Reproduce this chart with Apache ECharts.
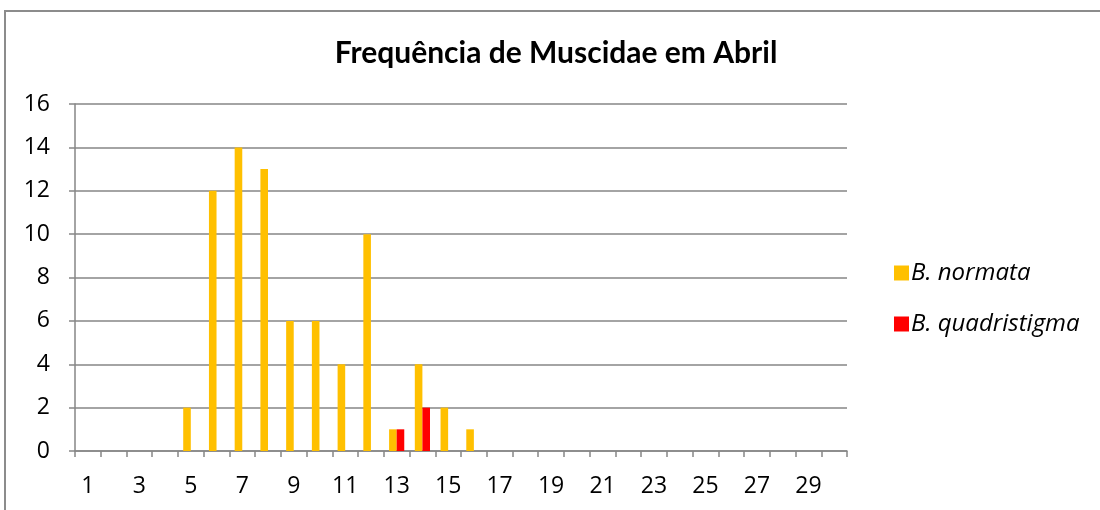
<!DOCTYPE html>
<html>
<head>
<meta charset="utf-8">
<script src="https://cdn.jsdelivr.net/npm/echarts@6/dist/echarts.min.js"></script>
<style>
html,body{margin:0;padding:0;background:#fff;}
#c{width:1100px;height:510px;}
</style>
</head>
<body>
<div id="c"></div>
<script>
const categories = Array.from({length: 30}, (_, i) => String(i + 1));
const normata = [0,0,0,0,2,12,14,13,6,6,4,10,1,4,2,1,0,0,0,0,0,0,0,0,0,0,0,0,0,0];
const quadristigma = [0,0,0,0,0,0,0,0,0,0,0,0,1,2,0,0,0,0,0,0,0,0,0,0,0,0,0,0,0,0];
const seriesNames = ['B. normata', 'B. quadristigma'];
const titleText = 'Frequência de Muscidae em Abril';

const chart = echarts.init(document.getElementById('c'), null, {renderer: 'canvas'});
const axisGray = '#868686';
chart.setOption({
  animation: false,
  backgroundColor: '#fff',
  title: {
    text: titleText,
    left: 551, top: 33, textAlign: 'center',
    textStyle: {fontFamily: 'Lato', fontWeight: 'bold', fontSize: 30, color: '#000'}
  },
  legend: {
    orient: 'vertical',
    left: 889, top: 256,
    itemWidth: 15, itemHeight: 15, itemGap: 27,
    icon: 'rect',
    textStyle: {fontFamily: 'Open Sans', fontStyle: 'italic', fontSize: 24, color: '#000', padding: [0,0,0,-3]},
    data: seriesNames
  },
  grid: {left: 75, right: 253, top: 104, bottom: 59, containLabel: false},
  xAxis: {
    type: 'category',
    data: categories,
    boundaryGap: true,
    axisLine: {lineStyle: {color: axisGray, width: 1.5}},
    axisTick: {show: true, interval: 0, length: 6, lineStyle: {color: axisGray, width: 1.5}},
    axisLabel: {interval: 1, fontFamily: 'Open Sans', fontSize: 23, color: '#000', margin: 24}
  },
  yAxis: {
    type: 'value', min: 0, max: 16, interval: 2,
    axisLine: {show: true, lineStyle: {color: axisGray, width: 1.5}},
    axisTick: {show: true, length: 6, lineStyle: {color: axisGray, width: 1.5}},
    splitLine: {lineStyle: {color: axisGray, width: 1.5}},
    axisLabel: {fontFamily: 'Open Sans', fontSize: 23, color: '#000', margin: 25}
  },
  graphic: [{
    type: 'polyline',
    shape: {points: [[5, 510], [5, 11], [1100, 11]]},
    style: {stroke: '#8c8c8c', lineWidth: 2, fill: null}
  }],
  series: [
    {name: seriesNames[0], type: 'bar', data: normata, barGap: '0%', barCategoryGap: '41%',
     itemStyle: {color: '#FFC000'}},
    {name: seriesNames[1], type: 'bar', data: quadristigma,
     itemStyle: {color: '#FF0000'}}
  ]
});
</script>
</body>
</html>
